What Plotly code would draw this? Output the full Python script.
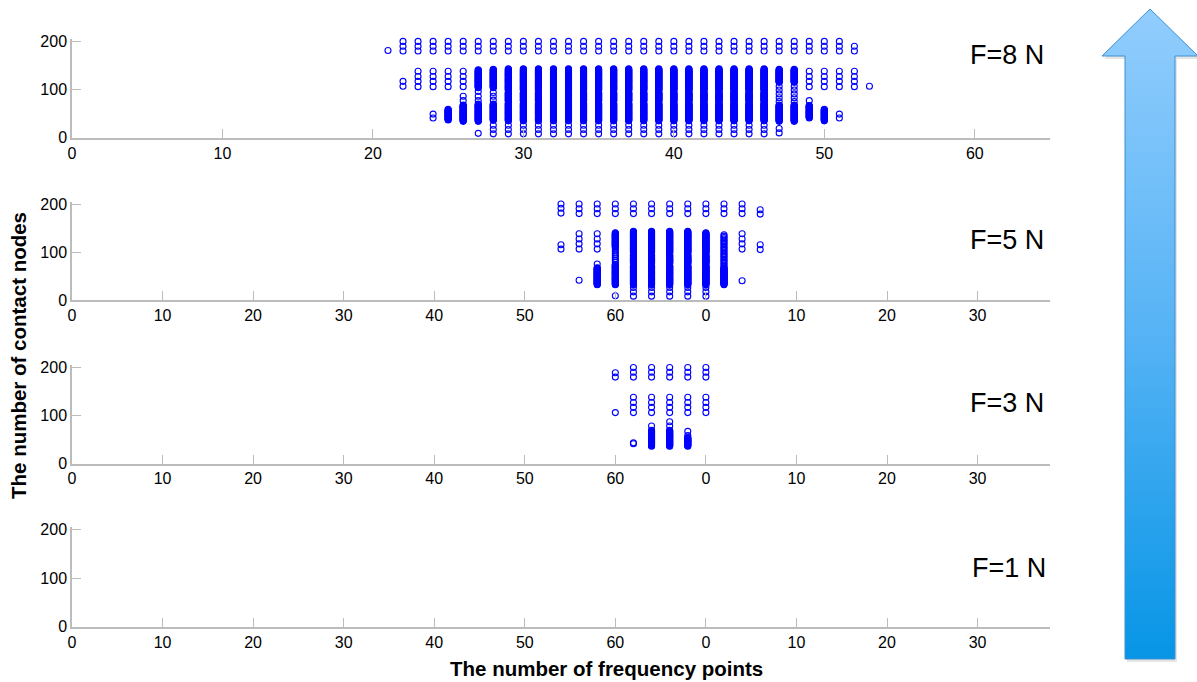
import plotly.graph_objects as go

# ---------------- data (contact node numbers per frequency point) ----------------
TOP_NODES = [180, 190, 200, 210]
MID_NODES = [106, 117, 127, 138]
LOW_NODES = [8, 17, 26]

# F = 8 N  (frequency points 21..53)
F8_X = [21, 22, 23, 24, 25, 26, 27, 28, 29, 30, 31, 32, 33, 34, 35, 36, 37,
        38, 39, 40, 41, 42, 43, 44, 45, 46, 47, 48, 49, 50, 51, 52, 53]
F8_SPARSE = [
    [181],
    [180, 190, 200, 107, 117],
    TOP_NODES + MID_NODES,
    TOP_NODES + MID_NODES + [41, 49],
    TOP_NODES + MID_NODES,
    TOP_NODES + MID_NODES + [77, 86],
    TOP_NODES + [77, 86, 96, 9],
    TOP_NODES + [78, 86, 94] + LOW_NODES,
] + [TOP_NODES + LOW_NODES] * 18 + [
    TOP_NODES + [75, 83, 91, 99, 107, 10, 19],
    TOP_NODES + [75, 83, 91, 99, 107],
    TOP_NODES + MID_NODES + [77],
    TOP_NODES + MID_NODES,
    TOP_NODES + MID_NODES + [41, 49],
    [180, 190] + MID_NODES,
    [107],
]
# contiguous runs of contact nodes: (first node, last node, node step)
F8_RUNS = [
    [], [], [], [],
    [(37, 59, 1)],
    [(34, 68, 1)],
    [(104, 141, 1), (34, 70, 1)],
    [(104, 142, 1), (36, 70, 1)],
] + [[(98, 143, 1), (76, 94, 1), (35, 72, 1)]] * 18 + [
    [(115, 142, 1), (34, 68, 1)],
    [(115, 142, 1), (34, 68, 1)],
    [(41, 67, 1)],
    [(35, 59, 1)],
    [], [], [],
]

# F = 5 N
F5_X = [54, 56, 58, 60, 62, 64, 66, 68, 70, 72, 74, 76]
F5_SPARSE = [
    [181, 191, 200, 106, 115],
    TOP_NODES + MID_NODES + [41],
    TOP_NODES + MID_NODES + [75],
    TOP_NODES + [9],
    TOP_NODES + LOW_NODES,
    TOP_NODES + LOW_NODES,
    TOP_NODES + LOW_NODES,
    TOP_NODES + LOW_NODES,
    TOP_NODES + LOW_NODES,
    TOP_NODES,
    TOP_NODES + MID_NODES + [40],
    [179, 188, 105, 115],
]
F5_RUNS = [
    [],
    [],
    [(32, 67, 1)],
    [(110, 140, 1), (78, 106, 4), (32, 74, 1)],
    [(98, 143, 1), (76, 94, 1), (32, 72, 1)],
    [(98, 143, 1), (76, 94, 1), (32, 72, 1)],
    [(98, 143, 1), (76, 94, 1), (32, 72, 1)],
    [(98, 143, 1), (76, 94, 1), (32, 72, 1)],
    [(98, 140, 1), (76, 94, 1), (32, 72, 1)],
    [(70, 136, 3), (32, 67, 1)],
    [],
    [],
]

# F = 3 N
F3_X = [60, 62, 64, 66, 68, 70]
F3_SPARSE = [
    [180, 189, 106],
    TOP_NODES + MID_NODES + [41, 43],
    TOP_NODES + MID_NODES + [78],
    TOP_NODES + MID_NODES + [78, 87],
    TOP_NODES + MID_NODES + [58, 67],
    TOP_NODES + MID_NODES,
]
F3_RUNS = [[], [], [(36, 69, 1)], [(36, 69, 1)], [(36, 54, 1)], []]

# F = 1 N : no contact nodes
F1_X = []
F1_SPARSE = []
F1_RUNS = []

LABELS = ["F=8 N", "F=5 N", "F=3 N", "F=1 N"]
TOP_TICKS = [0, 10, 20, 30, 40, 50, 60]
LOW_TICKVALS = [0, 10, 20, 30, 40, 50, 60, 70, 80, 90, 100]
LOW_TICKTEXT = ["0", "10", "20", "30", "40", "50", "60", "0", "10", "20", "30"]
Y_TICKS = [0, 100, 200]


def expand(xs, sparse, runs):
    px, py = [], []
    for x, s, r in zip(xs, sparse, runs):
        vals = list(s)
        for a, b, st in r:
            vals += list(range(a, b + 1, st))
        px += [x] * len(vals)
        py += vals
    return px, py


# ---------------- figure ----------------
W, H = 1197, 682
FONT = "Liberation Sans, Arial, Helvetica, sans-serif"
AX_GRAY = "#bcbcbc"

fig = go.Figure()

panels = [
    (F8_X, F8_SPARSE, F8_RUNS),
    (F5_X, F5_SPARSE, F5_RUNS),
    (F3_X, F3_SPARSE, F3_RUNS),
    (F1_X, F1_SPARSE, F1_RUNS),
]
# pixel rows (top, bottom) of each panel's plot area
rows_px = [(39.0, 137.7), (201.6, 300.0), (365.1, 463.5), (526.9, 626.7)]
x_dom = [72 / W, 1050 / W]

layout_axes = {}
for i, (xs, sp, rn) in enumerate(panels):
    k = "" if i == 0 else str(i + 1)
    px, py = expand(xs, sp, rn)
    fig.add_trace(go.Scatter(
        x=px, y=py, mode="markers", xaxis="x" + k, yaxis="y" + k,
        marker=dict(symbol="circle-open", size=6, color="#0000ff",
                    line=dict(width=1.1, color="#0000ff")),
        cliponaxis=False, showlegend=False, hoverinfo="skip"))
    top, bot = rows_px[i]
    common = dict(showline=True, linecolor=AX_GRAY, linewidth=1.5,
                  ticks="inside", ticklen=9, tickwidth=1, tickcolor=AX_GRAY,
                  showgrid=False, zeroline=False,
                  tickfont=dict(family=FONT, size=16, color="#000"))
    if i == 0:
        xa = dict(domain=x_dom, range=[0, 65], tickmode="array",
                  tickvals=TOP_TICKS, anchor="y" + k, **common)
    else:
        xa = dict(domain=x_dom, range=[0, 108], tickmode="array",
                  tickvals=LOW_TICKVALS, ticktext=LOW_TICKTEXT,
                  anchor="y" + k, **common)
    ya = dict(domain=[1 - bot / H, 1 - top / H], range=[0, 205],
              tickmode="array", tickvals=Y_TICKS, anchor="x" + k, **common)
    layout_axes["xaxis" + k] = xa
    layout_axes["yaxis" + k] = ya

# decorative arrow (pixel coordinates on a hidden axis covering the right strip)
AX0 = 1085
arrow_px = [(1150, 9), (1198, 56), (1175, 56), (1175, 659), (1125, 659),
            (1125, 56), (1102, 56), (1150, 9)]
fig.add_trace(go.Scatter(
    x=[p[0] + 2 for p in arrow_px], y=[H - p[1] - 3 for p in arrow_px],
    mode="lines", fill="toself", fillcolor="rgba(0,0,0,0.10)",
    line=dict(width=0), xaxis="x5", yaxis="y5", cliponaxis=False,
    showlegend=False, hoverinfo="skip"))
fig.add_trace(go.Scatter(
    x=[p[0] for p in arrow_px], y=[H - p[1] for p in arrow_px],
    mode="lines", fill="toself",
    fillgradient=dict(type="vertical",
                      colorscale=[[0, "#0795e6"], [0.5, "#56b3f5"], [1, "#92cdfd"]]),
    line=dict(width=1, color="#3a8fd2"), xaxis="x5", yaxis="y5",
    cliponaxis=False, showlegend=False, hoverinfo="skip"))
layout_axes["xaxis5"] = dict(domain=[AX0 / W, 1], range=[AX0, W], visible=False,
                             fixedrange=True, anchor="y5")
layout_axes["yaxis5"] = dict(domain=[0, 1], range=[0, H], visible=False,
                             fixedrange=True, anchor="x5")

annotations = []
label_pos = [(1046, 55), (1046, 240), (1046, 403), (1048, 568)]
for txt, (lx, ly) in zip(LABELS, label_pos):
    annotations.append(dict(text=txt, x=lx / W, y=1 - ly / H, xref="paper",
                            yref="paper", xanchor="right", yanchor="middle",
                            showarrow=False,
                            font=dict(family=FONT, size=27, color="#000")))
annotations.append(dict(text="<b>The number of frequency points</b>",
                        x=606 / W, y=1 - 668 / H, xref="paper", yref="paper",
                        xanchor="center", yanchor="middle", showarrow=False,
                        font=dict(family=FONT, size=20.5, color="#000")))
annotations.append(dict(text="<b>The number of contact nodes</b>",
                        x=18 / W, y=1 - 356 / H, xref="paper", yref="paper",
                        xanchor="center", yanchor="middle", showarrow=False,
                        textangle=-90,
                        font=dict(family=FONT, size=20.5, color="#000")))

fig.update_layout(width=W, height=H,
                  margin=dict(l=0, r=0, t=0, b=0, pad=0, autoexpand=False),
                  paper_bgcolor="white", plot_bgcolor="rgba(0,0,0,0)",
                  annotations=annotations, **layout_axes)

fig.write_html("out.html")
